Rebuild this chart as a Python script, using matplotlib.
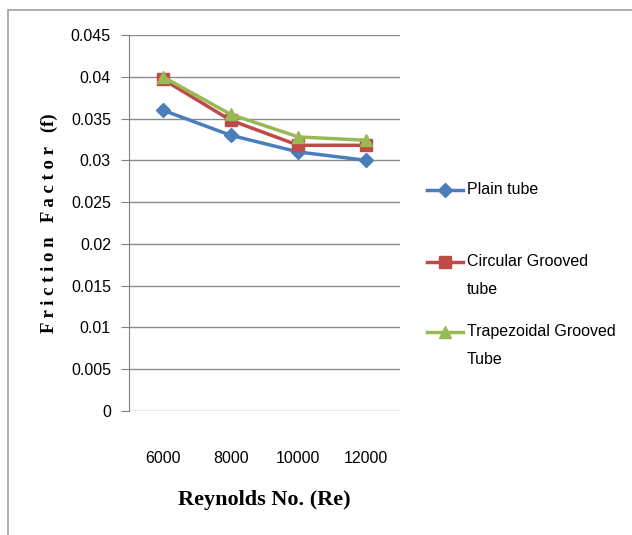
import matplotlib.pyplot as plt
from matplotlib.patches import Rectangle
from matplotlib.lines import Line2D

reynolds = ["6000", "8000", "10000", "12000"]
plain = [0.036, 0.033, 0.031, 0.030]
circular = [0.0397, 0.0348, 0.0318, 0.0318]
trapezoidal = [0.0400, 0.0355, 0.0328, 0.0324]
yticks = [0, 0.005, 0.01, 0.015, 0.02, 0.025, 0.03, 0.035, 0.04, 0.045]
series_names = ["Plain tube", "Circular Grooved\ntube", "Trapezoidal Grooved\nTube"]

tick_font = ["Liberation Sans", "DejaVu Sans"]
label_font = ["Liberation Serif", "DejaVu Serif"]
colors = ["#4A7EBB", "#BE4B48", "#98B954"]
markers = ["D", "s", "^"]
msizes = [7, 8, 9]

fig = plt.figure(figsize=(6.32, 5.35), dpi=100)
# outer chart border
fig.patches.append(Rectangle((8 / 632, -0.1), 1.2, 1 - 10 / 535 + 0.1,
                             transform=fig.transFigure, fill=False,
                             edgecolor="#a0a0a0", linewidth=1.2))

ax = fig.add_axes([129 / 632, 1 - 411 / 535, 271 / 632, 376 / 535])
x = range(len(reynolds))
for vals, c, m, ms in zip([plain, circular, trapezoidal], colors, markers, msizes):
    ax.plot(x, vals, color=c, marker=m, markersize=ms, linewidth=2.5)

ax.set_xlim(-0.5, 3.5)
ax.set_ylim(0, 0.045)
ax.set_yticks(yticks)
ax.set_yticklabels(["0" if v == 0 else f"{v:g}" for v in yticks], family=tick_font, fontsize=11.5)
ax.set_xticks(list(x))
ax.set_xticklabels(reynolds, family=tick_font, fontsize=11.5)
ax.tick_params(axis="x", length=0, pad=29)
ax.tick_params(axis="y", length=6, color="#808080", pad=7)
ax.grid(axis="y", color="#8c8c8c", linewidth=1)
ax.set_axisbelow(True)
for side in ["top", "right", "bottom"]:
    ax.spines[side].set_visible(False)
ax.spines["left"].set_color("#808080")

ax.set_xlabel("Reynolds No. (Re)", family=label_font, fontweight="bold", fontsize=16, labelpad=17)
ax.set_ylabel("F r i c t i o n   F a c t o r   (f)", family=label_font, fontweight="bold", fontsize=13.5, labelpad=9)

# legend, drawn by hand so the marker sits on the first text line
leg_y = [190, 262, 332]
for name, c, m, ms, y in zip(series_names, colors, markers, msizes, leg_y):
    yf = 1 - y / 535
    fig.add_artist(Line2D([427 / 632, 463 / 632], [yf, yf], color=c, linewidth=2.5,
                          transform=fig.transFigure))
    fig.add_artist(Line2D([445 / 632], [yf], color=c, marker=m, markersize=ms,
                          transform=fig.transFigure))
    fig.text(467 / 632, yf + 8 / 535, name, family=tick_font, fontsize=11.5,
             va="top", ha="left", linespacing=2.1)

plt.savefig("out.png", dpi=100)
